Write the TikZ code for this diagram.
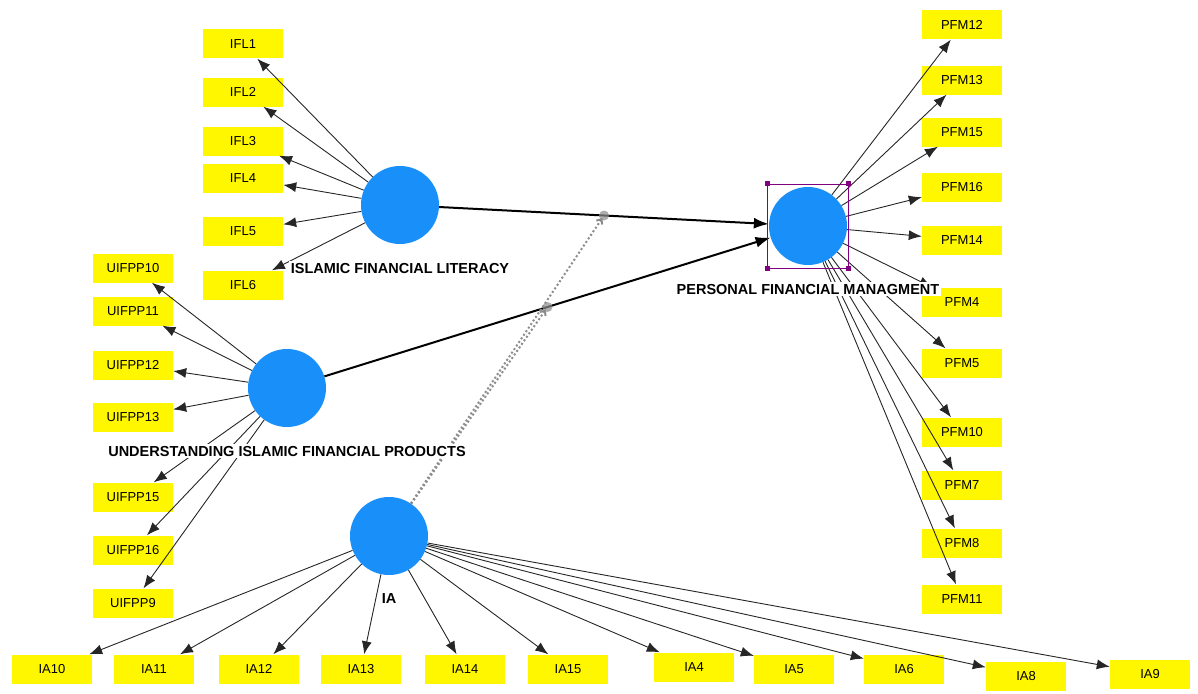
\documentclass[tikz,border=0pt]{standalone}
\usepackage{fontspec}
\setmainfont{Liberation Sans}
\usetikzlibrary{positioning,arrows.meta}
\definecolor{PLSYellow}{RGB}{255,247,0}
\definecolor{PLSBlue}{RGB}{25,143,250}
\definecolor{PLSPurple}{RGB}{128,0,128}
\definecolor{PLSGray}{RGB}{140,140,140}

\begin{document}
\begin{tikzpicture}[x=1pt,y=-1pt,
node distance=17pt,
ind/.style={rectangle,fill=PLSYellow,minimum width=80pt,minimum height=29pt,inner sep=0pt,
font=\fontsize{13}{15}\selectfont},
lv/.style={circle,fill=PLSBlue,minimum size=78pt,inner sep=0pt},
lvlabel/.style={fill=white,inner sep=1.5pt,font=\bfseries\fontsize{14.5}{16}\selectfont},
load/.style={-{Latex[length=13pt,width=10pt]},draw=black!85,line width=0.9pt},
arrow/.style={-{Latex[length=15pt,width=11pt]},line width=2pt},
moder/.style={-{Straight Barb[length=4pt,width=7pt]},draw=PLSGray,line width=2pt,
dash pattern=on 2pt off 2.3pt,shorten >=3pt},
handle/.style={rectangle,fill=PLSPurple,minimum size=5pt,inner sep=0pt}
]
\useasboundingbox (0,0) rectangle (1198,693);

\node[lv] (ifl) at (400,205) {};
\node[lv] (uifpp) at (287,388) {};
\node[lv] (ia) at (389,536) {};
\node[lv] (pfm) at (808,226) {};

\node[ind] (ifl1) at (243,44) {IFL1};
\node[ind] (ifl2) at (243,92) {IFL2};
\node[ind] (ifl3) at (243,141) {IFL3};
\node[ind] (ifl4) at (243,178) {IFL4};
\node[ind] (ifl5) at (243,231) {IFL5};
\node[ind] (ifl6) at (243,285) {IFL6};

\node[ind] (u10) at (133,268) {UIFPP10};
\node[ind] (u11) at (133,311) {UIFPP11};
\node[ind] (u12) at (133,365) {UIFPP12};
\node[ind] (u13) at (133,417) {UIFPP13};
\node[ind] (u15) at (133,497) {UIFPP15};
\node[ind] (u16) at (133,550) {UIFPP16};
\node[ind] (u9) at (133,603) {UIFPP9};

\node[ind] (ia10) at (52,669) {IA10};
\node[ind] (ia11) at (154,669) {IA11};
\node[ind] (ia12) at (259,669) {IA12};
\node[ind] (ia13) at (361,669) {IA13};
\node[ind] (ia14) at (465,669) {IA14};
\node[ind] (ia15) at (568,669) {IA15};
\node[ind] (ia4) at (694,667) {IA4};
\node[ind] (ia5) at (794,669) {IA5};
\node[ind] (ia6) at (904,669) {IA6};
\node[ind] (ia8) at (1026,676) {IA8};
\node[ind] (ia9) at (1150,674) {IA9};

\node[ind] (pfm12) at (962,25) {PFM12};
\node[ind] (pfm13) at (962,80) {PFM13};
\node[ind] (pfm15) at (962,132) {PFM15};
\node[ind] (pfm16) at (962,187) {PFM16};
\node[ind] (pfm14) at (962,240) {PFM14};
\node[ind] (pfm4) at (962,302) {PFM4};
\node[ind] (pfm5) at (962,363) {PFM5};
\node[ind] (pfm10) at (962,432) {PFM10};
\node[ind] (pfm7) at (962,485) {PFM7};
\node[ind] (pfm8) at (962,543) {PFM8};
\node[ind] (pfm11) at (962,599) {PFM11};

\draw[load] (ifl)--(ifl1); \draw[load] (ifl)--(ifl2); \draw[load] (ifl)--(ifl3);
\draw[load] (ifl)--(ifl4); \draw[load] (ifl)--(ifl5); \draw[load] (ifl)--(ifl6);
\draw[load] (uifpp)--(u10); \draw[load] (uifpp)--(u11); \draw[load] (uifpp)--(u12);
\draw[load] (uifpp)--(u13); \draw[load] (uifpp)--(u15); \draw[load] (uifpp)--(u16);
\draw[load] (uifpp)--(u9);
\draw[load] (ia)--(ia10); \draw[load] (ia)--(ia11); \draw[load] (ia)--(ia12);
\draw[load] (ia)--(ia13); \draw[load] (ia)--(ia14); \draw[load] (ia)--(ia15);
\draw[load] (ia)--(ia4); \draw[load] (ia)--(ia5); \draw[load] (ia)--(ia6);
\draw[load] (ia)--(ia8); \draw[load] (ia)--(ia9);
\draw[load] (pfm)--(pfm12); \draw[load] (pfm)--(pfm13); \draw[load] (pfm)--(pfm15);
\draw[load] (pfm)--(pfm16); \draw[load] (pfm)--(pfm14); \draw[load] (pfm)--(pfm4);
\draw[load] (pfm)--(pfm5); \draw[load] (pfm)--(pfm10); \draw[load] (pfm)--(pfm7);
\draw[load] (pfm)--(pfm8); \draw[load] (pfm)--(pfm11);

\draw[arrow] (ifl)-- coordinate[pos=0.5] (m1) (pfm);
\draw[arrow] (uifpp)-- coordinate[pos=0.5] (m2) (pfm);
\draw[moder] (ia)--(m2); \draw[moder] (ia)--(m1);
\fill[PLSGray,opacity=0.7] (m1) circle (5pt);
\fill[PLSGray,opacity=0.7] (m2) circle (5pt);

\node[draw=PLSPurple,line width=0.6pt,minimum width=81pt,minimum height=84pt] (sel) at (pfm) {};
\node[handle] at (sel.north west) {}; \node[handle] at (sel.north east) {};
\node[handle] at (sel.south west) {}; \node[handle] at (sel.south east) {};

\node[lvlabel,below=of ifl] (ifllab) {ISLAMIC FINANCIAL LITERACY};
\node[lvlabel,below=of uifpp] (uifpplab) {UNDERSTANDING ISLAMIC FINANCIAL PRODUCTS};
\node[lvlabel,below=of ia] (ialab) {IA};
\node[lvlabel,below=of pfm] (pfmlab) {PERSONAL FINANCIAL MANAGMENT};
\end{tikzpicture}
\end{document}
